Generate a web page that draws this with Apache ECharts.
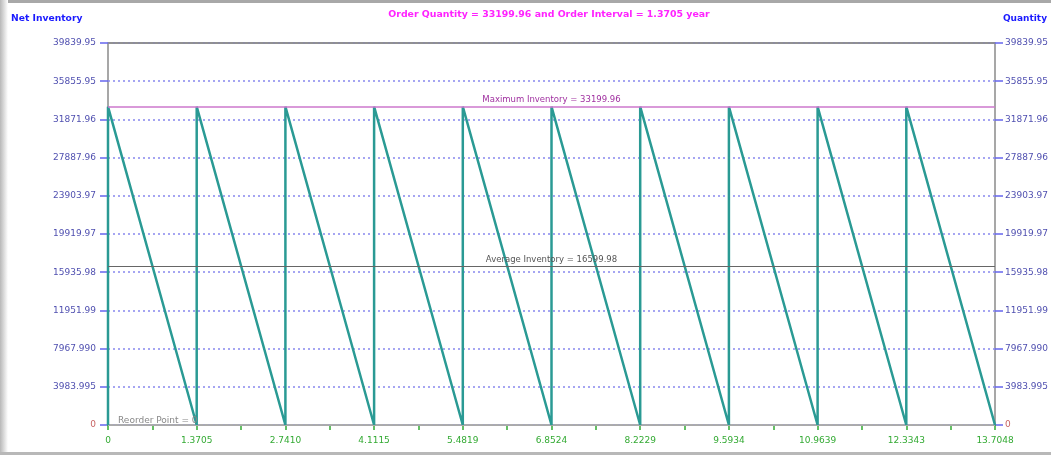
<!DOCTYPE html>
<html><head><meta charset="utf-8">
<script src="https://cdn.jsdelivr.net/npm/echarts@6/dist/echarts.min.js"></script>
<style>html,body{margin:0;padding:0;background:#fff}#c{width:1051px;height:455px}</style>
</head><body><div id="c"></div>
<script>
const orderTimes = [0, 1.3705, 2.7410, 4.1115, 5.4819, 6.8524, 8.2229, 9.5934, 10.9639, 12.3343, 13.7048];
const xTickLabels = ['0', '1.3705', '2.7410', '4.1115', '5.4819', '6.8524', '8.2229', '9.5934', '10.9639', '12.3343', '13.7048'];
const yTickLabels = ['0', '3983.995', '7967.990', '11951.99', '15935.98', '19919.97', '23903.97', '27887.96', '31871.96', '35855.95', '39839.95'];
const orderQuantity = 33199.96;
const averageInventory = 16599.98;
const reorderPoint = 0;
const yMax = 39839.95;
const xMax = 13.7048;

const yStep = yMax / 10;
const xStep = xMax / 10;

const sawData = [];
for (let i = 0; i < orderTimes.length - 1; i++) {
  sawData.push([orderTimes[i], 0]);
  sawData.push([orderTimes[i], orderQuantity]);
  sawData.push([orderTimes[i + 1], 0]);
}

const font = 'DejaVu Sans, Verdana, sans-serif';
function yAxis(pos) {
  return {
    type: 'value', position: pos, min: 0, max: yMax, interval: yStep,
    axisLine: { show: false },
    axisTick: { show: true, length: 8, lineStyle: { color: '#6666ee', width: 1.5 } },
    axisLabel: {
      margin: pos === 'left' ? 12 : 10, fontSize: 9, fontFamily: font, color: '#5050b0',
      formatter: v => {
        const i = Math.round(v / yStep);
        const s = yTickLabels[i] !== undefined ? yTickLabels[i] : '';
        return i === 0 ? '{z|' + s + '}' : s;
      },
      rich: { z: { color: '#c86464', fontSize: 9, fontFamily: font } }
    },
    splitLine: { show: pos === 'left', lineStyle: { color: '#8888ee', type: [2, 3], width: 1.5 } }
  };
}

const chart = echarts.init(document.getElementById('c'), null, { renderer: 'canvas' });
chart.setOption({
  animation: false,
  backgroundColor: '#fff',
  graphic: [
    { type: 'rect', shape: { x: 0, y: 0, width: 1051, height: 3 }, style: { fill: '#a8a8a8' }, silent: true },
    { type: 'rect', shape: { x: 0, y: 0, width: 8, height: 455 }, style: { fill: new echarts.graphic.LinearGradient(0, 0, 1, 0, [{ offset: 0, color: '#b8b8b8' }, { offset: 1, color: '#fff' }]) }, silent: true },
    { type: 'rect', shape: { x: 0, y: 452, width: 1051, height: 3 }, style: { fill: '#b8b8b8' }, silent: true },
    { type: 'text', left: 11, top: 14, style: { text: 'Net Inventory', fill: '#1a1aff', font: 'bold 9.2px ' + font } },
    { type: 'text', right: 4, top: 14, style: { text: 'Quantity', fill: '#1a1aff', font: 'bold 9px ' + font } },
    { type: 'text', x: 549, y: 10, style: { text: 'Order Quantity = 33199.96 and Order Interval = 1.3705 year', fill: '#ff22ff', font: 'bold 9.4px ' + font, textAlign: 'center', textVerticalAlign: 'top' } }
  ],
  grid: { left: 108, right: 56, top: 43, bottom: 30, show: true, borderColor: '#8a8a8a', borderWidth: 1.5, backgroundColor: 'transparent' },
  xAxis: {
    type: 'value', min: 0, max: xMax, interval: xStep,
    axisLine: { show: true, lineStyle: { color: '#b0b0b0', width: 1.5 } },
    axisTick: { show: true, length: 5, lineStyle: { color: '#33aa33', width: 1.5 } },
    minorTick: { show: true, splitNumber: 2, length: 5, lineStyle: { color: '#33aa33', width: 1.5 } },
    axisLabel: {
      margin: 11, fontSize: 9, fontFamily: font, color: '#33aa33',
      formatter: v => { const i = Math.round(v / xStep); return xTickLabels[i] !== undefined ? xTickLabels[i] : ''; }
    },
    splitLine: { show: false }
  },
  yAxis: [yAxis('left'), yAxis('right')],
  series: [{
    type: 'line', data: sawData, showSymbol: false, symbol: 'none',
    lineStyle: { color: '#2a9a94', width: 2.5 },
    z: 3,
    markLine: {
      silent: true, symbol: 'none',
      data: [
        { yAxis: yMax, lineStyle: { color: '#8a8a8a', width: 1.5, type: 'solid' }, label: { show: false } },
        { yAxis: orderQuantity, lineStyle: { color: '#cc77cc', width: 1.5, type: 'solid' },
          label: { show: true, position: 'middle', formatter: 'Maximum Inventory = 33199.96', color: '#a030a0', fontSize: 8.5, fontFamily: font, distance: 2 } },
        { yAxis: averageInventory, lineStyle: { color: '#666', width: 1.2, type: 'solid' },
          label: { show: true, position: 'middle', formatter: 'Average Inventory = 16599.98', color: '#555', fontSize: 8.5, fontFamily: font, distance: 2 } },
        { yAxis: reorderPoint, lineStyle: { color: '#aaa', width: 1, type: 'solid' },
          label: { show: true, position: 'insideStartTop', formatter: 'Reorder Point = 0', color: '#888', fontSize: 9, fontFamily: font, distance: [10, 0] } }
      ]
    }
  }]
});
</script></body></html>
